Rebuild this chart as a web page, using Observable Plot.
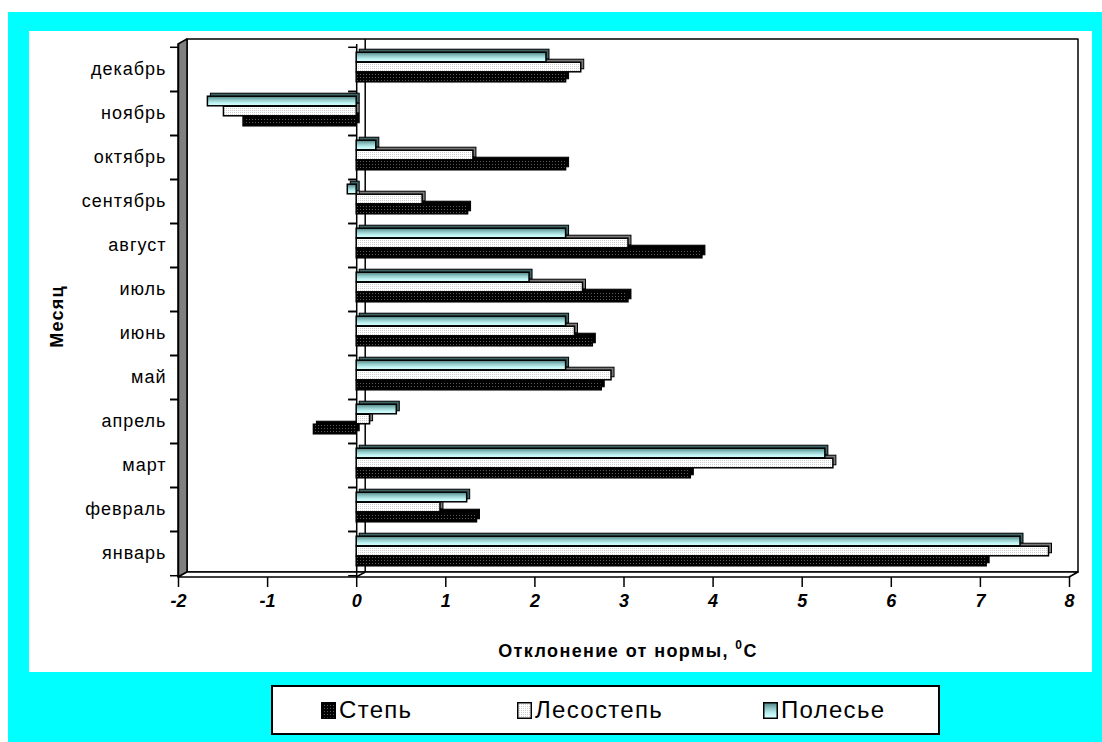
<!DOCTYPE html>
<html><head><meta charset="utf-8">
<script src="https://cdn.jsdelivr.net/npm/d3@7"></script>
<script src="https://cdn.jsdelivr.net/npm/@observablehq/plot@0.6"></script>
<style>
html,body{margin:0;padding:0;background:#fff;width:1102px;height:742px;overflow:hidden;font-family:"Liberation Sans",Arial,sans-serif}
#cyan{position:absolute;left:8px;top:12px;width:1094px;height:730px;background:#00ffff}
#panel{position:absolute;left:29px;top:31px;width:1063px;height:641px;background:#fff}
#chart{position:absolute;left:0;top:0}
#chart g[aria-label="y-axis tick label"] text{letter-spacing:1px}
#legend{position:absolute;left:271px;top:685px;width:665px;height:46px;border:2px solid #000;background:#fff}
.item{position:absolute;top:0;height:46px;display:flex;align-items:center;font-size:24px;letter-spacing:1.3px;color:#000}
.item svg{margin-right:3px}
</style></head>
<body>
<div id="cyan"></div>
<div id="panel"></div>
<div id="chart"></div>
<div id="legend"></div>
<script>
// ---- data ----
const months = ["январь","февраль","март","апрель","май","июнь","июль","август","сентябрь","октябрь","ноябрь","декабрь"];
const series = ["Степь","Лесостепь","Полесье"];
const step     = [7.07, 1.35, 3.75, -0.48, 2.75, 2.65, 3.05, 3.88, 1.25, 2.35, -1.27, 2.35];
const lesostep = [7.77, 0.94, 5.35,  0.15, 2.86, 2.45, 2.54, 3.05, 0.74, 1.31, -1.49, 2.52];
const polesye  = [7.45, 1.24, 5.26,  0.45, 2.35, 2.35, 1.94, 2.35, -0.10, 0.22, -1.67, 2.13];
const xTicks = [-2,-1,0,1,2,3,4,5,6,7,8];
const xTitle = "Отклонение от нормы, ";
const yTitle = "Месяц";

const values = {"Степь": step, "Лесостепь": lesostep, "Полесье": polesye};
const rows = months.flatMap((m, i) => series.map(s => ({month: m, series: s, value: values[s][i]})));

// ---- layout ----
const W = 1102, H = 672, mL = 178, mR = 33, mT = 44, mB = 95;
const bw = (H - mT - mB) / months.length;
const barH = 10;
const inset = (bw - barH) / 2;
const offs = {"Полесье": -12, "Лесостепь": -2, "Степь": 8};
const fills = {"Степь": "url(#pStep)", "Лесостепь": "url(#pLes)", "Полесье": "url(#gPol)"};
const tops = {"Степь": "#000", "Лесостепь": "#7a7a7a", "Полесье": "#3d6464"};
const DX = 9, DY = -5;

function bars(s) {
  const data = rows.filter(d => d.series === s);
  return [
    Plot.barX(data, {x1: 0, x2: "value", y: "month", insetTop: inset, insetBottom: inset, dx: 3, dy: offs[s] - 3, fill: tops[s], stroke: "#000", strokeWidth: 1}),
    Plot.barX(data, {x1: 0, x2: "value", y: "month", insetTop: inset, insetBottom: inset, dy: offs[s], fill: fills[s], stroke: "#000", strokeWidth: 1.5})
  ];
}

const svgEl = Plot.plot({
  width: W, height: H,
  marginLeft: mL, marginRight: mR, marginTop: mT, marginBottom: mB,
  style: {background: "transparent", overflow: "visible", fontFamily: "'Liberation Sans', Arial, sans-serif", color: "#000"},
  x: {domain: [-2, 8], label: null},
  y: {type: "band", domain: months.slice().reverse(), padding: 0, label: null},
  marks: [
    Plot.ruleX([0], {stroke: "#000", strokeWidth: 1.5}),
    Plot.ruleY(months, {y: d => d, x1: 0, x2: 0, insetLeft: -8, dy: -bw / 2, stroke: "#000", strokeWidth: 1.5}),
    Plot.ruleY(months, {y: d => d, x1: 0, x2: 0, insetLeft: -8, dy: bw / 2, stroke: "#000", strokeWidth: 1.5}),
    ...bars("Степь"),
    ...bars("Лесостепь"),
    ...bars("Полесье"),
    Plot.ruleX([-2], {stroke: "#000", strokeWidth: 1.5}),
    Plot.axisY({tickSize: 0, tickPadding: 12, fontSize: 18, label: null}),
    Plot.axisY({tickSize: 8, tickFormat: () => "", dy: -bw / 2, strokeWidth: 1.5, label: null}),
    Plot.axisY({tickSize: 8, tickFormat: () => "", dy: bw / 2, strokeWidth: 1.5, label: null}),
    Plot.axisX({ticks: xTicks, tickSize: 10, tickPadding: 7, strokeWidth: 1.5, fontSize: 18, fontWeight: "bold", fontStyle: "italic", tickFormat: d => String(d), label: null})
  ]
});
document.getElementById("chart").appendChild(svgEl);

// ---- defs, walls and floor ----
const svg = d3.select(svgEl);
const defs = svg.insert("defs", ":first-child");
const p1 = defs.append("pattern").attr("id", "pStep").attr("width", 3).attr("height", 3).attr("patternUnits", "userSpaceOnUse");
p1.append("rect").attr("width", 3).attr("height", 3).attr("fill", "#000");
p1.append("rect").attr("width", 1).attr("height", 1).attr("fill", "#5a5a5a");
const p2 = defs.append("pattern").attr("id", "pLes").attr("width", 2).attr("height", 2).attr("patternUnits", "userSpaceOnUse");
p2.append("rect").attr("width", 2).attr("height", 2).attr("fill", "#fff");
p2.append("rect").attr("width", 1).attr("height", 1).attr("fill", "#cfcfcf");
const g = defs.append("linearGradient").attr("id", "gPol").attr("x1", 0).attr("x2", 0).attr("y1", 0).attr("y2", 1);
[[0, "#4f7f7f"], [0.35, "#8cc4c4"], [0.7, "#bff3f3"], [1, "#dcffff"]].forEach(([o, c]) => g.append("stop").attr("offset", o).attr("stop-color", c));

const xs = svgEl.scale("x");
const xa = xs.apply(-2), xb = xs.apply(8), x0 = xs.apply(0);
const yt = mT, yb = H - mB;
const walls = svg.insert("g", "defs + *").attr("stroke", "#000").attr("stroke-width", 1.5).attr("stroke-linejoin", "round");
walls.append("rect").attr("x", xa + DX).attr("y", yt + DY).attr("width", xb - xa).attr("height", yb - yt).attr("fill", "#fff");
walls.append("polygon").attr("points", [[xa, yt], [xa + DX, yt + DY], [xa + DX, yb + DY], [xa, yb]].join(" ")).attr("fill", "#808080");
walls.append("polygon").attr("points", [[xa, yb], [xa + DX, yb + DY], [xb + DX, yb + DY], [xb, yb]].join(" ")).attr("fill", "#fff");
walls.append("line").attr("x1", x0 + DX).attr("x2", x0 + DX).attr("y1", yt + DY).attr("y2", yb + DY);
walls.append("line").attr("x1", x0 + DX).attr("x2", x0).attr("y1", yb + DY).attr("y2", yb);

// ---- titles ----
svg.append("text").attr("transform", `translate(57,${(yt + yb) / 2 + 6}) rotate(-90)`).attr("text-anchor", "middle").attr("dy", "0.35em")
  .attr("font-size", 18).attr("letter-spacing", 1.2).attr("font-weight", "bold").attr("fill", "#000").text(yTitle);
const t = svg.append("text").attr("x", 628).attr("y", 657).attr("text-anchor", "middle").attr("font-size", 18).attr("letter-spacing", 1.4).attr("font-weight", "bold").attr("fill", "#000");
t.append("tspan").text(xTitle);
t.append("tspan").attr("font-size", 12).attr("dy", -8).text("0");
t.append("tspan").attr("dy", 8).text("C");

// ---- legend ----
const leg = d3.select("#legend");
const lpos = [48, 244, 490];
series.forEach((s, i) => {
  const it = leg.append("div").attr("class", "item").style("left", lpos[i] + "px");
  const sw = it.append("svg").attr("width", 15).attr("height", 17);
  sw.append("rect").attr("x", 0.75).attr("y", 0.75).attr("width", 13.5).attr("height", 15.5).attr("fill", fills[s]).attr("stroke", "#000").attr("stroke-width", 1.5);
  it.append("span").text(s);
});
</script>
</body></html>
